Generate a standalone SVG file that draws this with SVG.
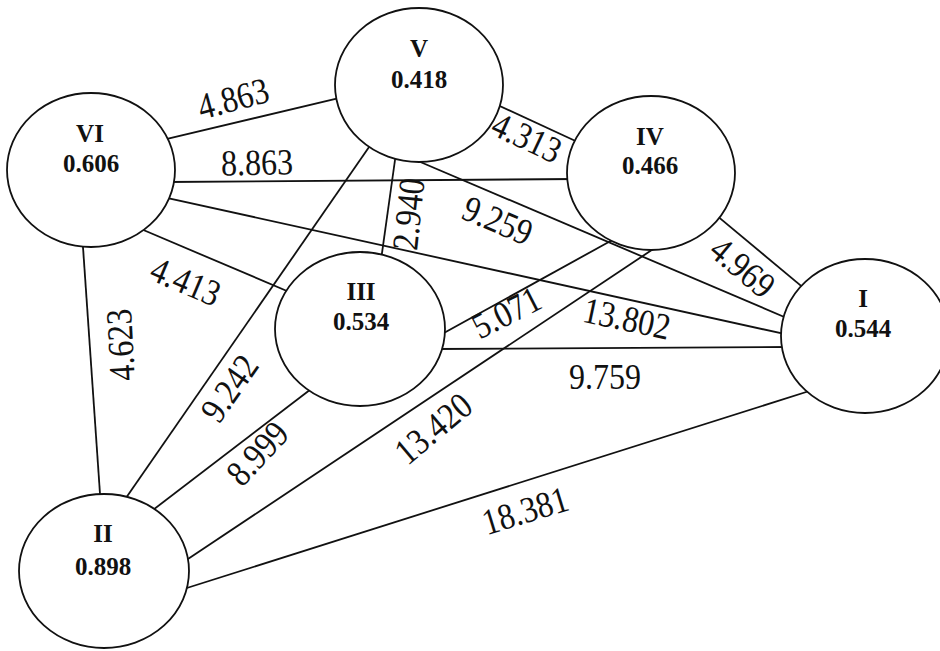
<svg xmlns="http://www.w3.org/2000/svg" width="940" height="651" viewBox="0 0 940 651">
<style>
.edge{stroke:#111;stroke-width:1.8;fill:none}
.node ellipse{fill:#fff;stroke:#111;stroke-width:1.8}
.nl{font-family:"Liberation Serif","Times New Roman",serif;font-weight:bold;font-size:25px;fill:#111;text-anchor:middle}
.el{font-family:"Liberation Serif","Times New Roman",serif;font-size:32px;fill:#111;text-anchor:middle}
</style>
<rect width="940" height="651" fill="#fff"/>
<g id="connectors">
<line class="edge" x1="165" y1="139.3" x2="345" y2="96.7"/>
<line class="edge" x1="167" y1="182" x2="577" y2="179"/>
<line class="edge" x1="153" y1="194.8" x2="790" y2="335.2"/>
<line class="edge" x1="134" y1="226" x2="294" y2="294"/>
<line class="edge" x1="82.3" y1="237" x2="100.7" y2="504"/>
<line class="edge" x1="491" y1="102" x2="582" y2="144"/>
<line class="edge" x1="396.4" y1="150" x2="380.6" y2="263"/>
<line class="edge" x1="372.7" y1="141.8" x2="122.3" y2="503.2"/>
<line class="edge" x1="315" y1="386" x2="149" y2="513"/>
<line class="edge" x1="663" y1="242.5" x2="179.7" y2="564.5"/>
<line class="edge" x1="616" y1="238" x2="433" y2="339"/>
<line class="edge" x1="712" y1="211.6" x2="807.7" y2="291.4"/>
<line class="edge" x1="418" y1="161" x2="789" y2="319"/>
<line class="edge" x1="436" y1="349" x2="791" y2="347"/>
<line class="edge" x1="180.5" y1="590" x2="812.5" y2="390"/>
<text class="el" transform="translate(233,98) rotate(-15) scale(1,1.15)" dy="0.35em">4.863</text>
<text class="el" transform="translate(257,162) rotate(-1) scale(1,1.15)" dy="0.35em">8.863</text>
<text class="el" transform="translate(186,281) rotate(23) scale(1,1.15)" dy="0.35em">4.413</text>
<text class="el" transform="translate(120,345) rotate(-93) scale(1,1.15)" dy="0.35em">4.623</text>
<text class="el" transform="translate(527,137) rotate(25) scale(1,1.15)" dy="0.35em">4.313</text>
<text class="el" transform="translate(408,214) rotate(-84) scale(1,1.15)" dy="0.35em">2.940</text>
<text class="el" transform="translate(229,388) rotate(-55) scale(1,1.15)" dy="0.35em">9.242</text>
<text class="el" transform="translate(498,220) rotate(23) scale(1,1.15)" dy="0.35em">9.259</text>
<text class="el" transform="translate(257,453) rotate(-47) scale(1,1.15)" dy="0.35em">8.999</text>
<text class="el" transform="translate(433,428) rotate(-40) scale(1,1.15)" dy="0.35em">13.420</text>
<text class="el" transform="translate(506,312) rotate(-27) scale(1,1.15)" dy="0.35em">5.071</text>
<text class="el" transform="translate(743,267) rotate(40) scale(1,1.15)" dy="0.35em">4.969</text>
<text class="el" transform="translate(627,318) rotate(12) scale(1,1.15)" dy="0.35em">13.802</text>
<text class="el" transform="translate(605,376) scale(1,1.15)" dy="0.35em">9.759</text>
<text class="el" transform="translate(525,510) rotate(-17) scale(1,1.15)" dy="0.35em">18.381</text>
</g>
<g id="node-V" class="node"><ellipse cx="419" cy="85" rx="84" ry="77"/><text class="nl" x="419" y="57">V</text><text class="nl" x="419" y="88">0.418</text></g>
<g id="node-VI" class="node"><ellipse cx="91" cy="170" rx="84" ry="77"/><text class="nl" x="90" y="142">VI</text><text class="nl" x="91" y="172">0.606</text></g>
<g id="node-IV" class="node"><ellipse cx="651" cy="173" rx="84" ry="77"/><text class="nl" x="650" y="145">IV</text><text class="nl" x="650" y="174">0.466</text></g>
<g id="node-III" class="node"><ellipse cx="360" cy="329" rx="85" ry="77"/><text class="nl" x="361" y="300">III</text><text class="nl" x="361" y="330">0.534</text></g>
<g id="node-I" class="node"><ellipse cx="865" cy="336" rx="84" ry="77"/><text class="nl" x="863" y="307">I</text><text class="nl" x="863" y="337">0.544</text></g>
<g id="node-II" class="node"><ellipse cx="104" cy="571" rx="85" ry="77"/><text class="nl" x="103" y="542">II</text><text class="nl" x="103" y="575">0.898</text></g>
</svg>
